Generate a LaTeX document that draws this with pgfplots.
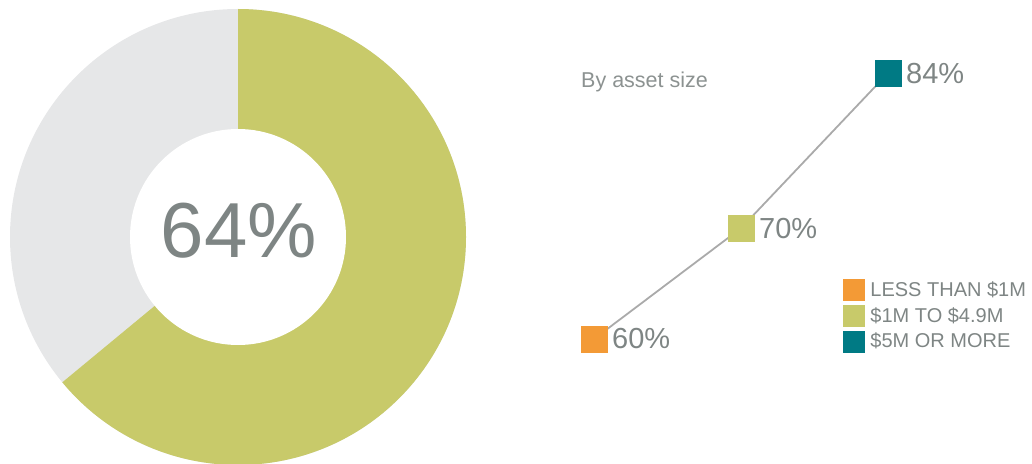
\documentclass[border=0pt]{standalone}
\usepackage{fontspec}
\setmainfont{Liberation Sans}
\usepackage{pgfplots}
\pgfplotsset{compat=1.18}
\usepackage{pgfplotstable}
\definecolor{cgreen}{HTML}{C8CA6A}
\definecolor{cgray}{HTML}{E6E7E8}
\definecolor{corange}{HTML}{F39A36}
\definecolor{cteal}{HTML}{007A84}
\definecolor{cline}{HTML}{AAAAAA}
\definecolor{ctext}{HTML}{7E8584}
\definecolor{ctextb}{HTML}{8C9291}

\pgfplotstableread{
x y
0 60
1 70
2 84
}\assets

\newcommand\share{64}

\begin{document}
\begin{tikzpicture}
\path[use as bounding box] (0,0) rectangle (1032pt,463pt);
% donut
\begin{axis}[at={(238pt,226pt)}, anchor=center, hide axis, scale only axis,
  x=1pt, y=1pt, xmin=-230, xmax=230, ymin=-230, ymax=230, clip=false]
  \fill[cgray] (axis cs:0,0) circle[radius=228pt];
  \fill[cgreen] (axis cs:0,0) -- (axis cs:0,228) arc[start angle=90, end angle={90-3.6*\share}, radius=228pt] -- cycle;
  \fill[white] (axis cs:0,0) circle[radius=108pt];
\end{axis}
\node[anchor=base, inner sep=0pt, font=\fontsize{78}{78}\selectfont, text=ctext] at (239pt,205pt) {64\%};
\node[anchor=base west, inner sep=0pt, font=\fontsize{21.5}{21.5}\selectfont, text=ctextb] at (581pt,375pt) {By asset size};
% line chart
\begin{axis}[at={(594pt,124pt)}, anchor=south west, hide axis, scale only axis,
  x=147pt, y=11.08pt, xmin=0, xmax=2, ymin=60, ymax=84, clip=false,
  /pgf/number format/assume math mode=true,
  legend cell align=left,
  legend style={at={(axis cs:1.694,65.43)}, anchor=north west, draw=none, fill=none,
    inner sep=0pt, outer sep=0pt, row sep=4.5pt,
    nodes={inner sep=0pt, font=\fontsize{20}{20}\selectfont, text=ctext}},
  every node near coord/.append style={anchor=west, xshift=18pt, inner sep=0pt,
    font=\fontsize{29}{29}\selectfont, text=ctext},
  nodes near coords={\pgfmathprintnumber{\pgfplotspointmeta}\%},
  legend image code/.code={\fill (0pt,-10.5pt) rectangle (21pt,10.5pt); \path (27pt,0pt);}]
  \addplot[cline, line width=1.8pt, forget plot, nodes near coords={}] table[x=x,y=y]{\assets};
  \addplot[only marks, mark=square*, mark size=13pt, color=corange] table[x=x,y=y, skip coords between index={1}{3}]{\assets};
  \addlegendentry{LESS THAN \$1M}
  \addplot[only marks, mark=square*, mark size=13pt, color=cgreen] table[x=x,y=y, skip coords between index={0}{1}, skip coords between index={2}{3}]{\assets};
  \addlegendentry{\$1M TO \$4.9M}
  \addplot[only marks, mark=square*, mark size=13pt, color=cteal] table[x=x,y=y, skip coords between index={0}{2}]{\assets};
  \addlegendentry{\$5M OR MORE}
\end{axis}
\end{tikzpicture}
\end{document}
